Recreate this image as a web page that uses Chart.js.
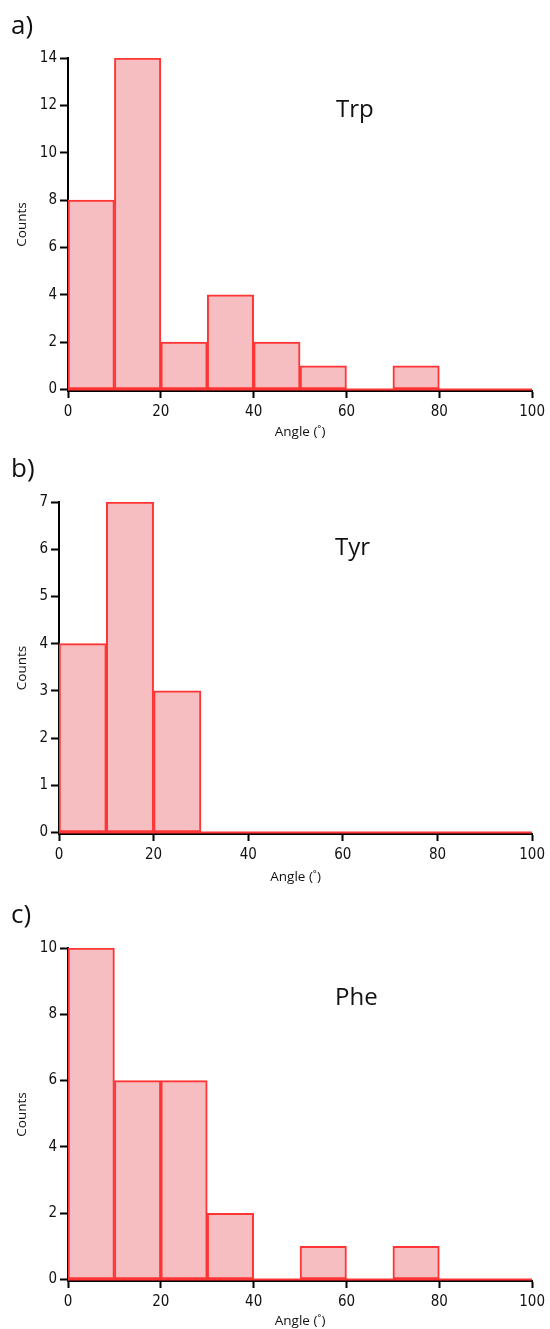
<!DOCTYPE html>
<html>
<head>
<meta charset="utf-8">
<script src="https://cdn.jsdelivr.net/npm/chart.js@4.4.1/dist/chart.umd.min.js"></script>
<style>
  html, body { margin: 0; padding: 0; background: #fff; }
  body { width: 550px; height: 1329px; position: relative; overflow: hidden; }
  canvas { position: absolute; left: 0; }
  .lbl { position: absolute; font-family: "Open Sans", sans-serif; color: #111; line-height: 1; white-space: nowrap; }
  .panel { font-size: 26px; }
  .name { font-size: 24px; }
</style>
</head>
<body>
<canvas id="cA" width="550" height="445" style="top:0px"></canvas>
<canvas id="cB" width="550" height="445" style="top:445px"></canvas>
<canvas id="cC" width="550" height="439" style="top:890px"></canvas>

<div class="lbl panel" style="left:11px; top:11px">a)</div>
<div class="lbl name" style="left:336px; top:96px">Trp</div>
<div class="lbl panel" style="left:11px; top:454px">b)</div>
<div class="lbl name" style="left:335px; top:534px">Tyr</div>
<div class="lbl panel" style="left:11px; top:900px">c)</div>
<div class="lbl name" style="left:335px; top:984px">Phe</div>

<script>
// ---- data ----
const binEdges = [0, 10, 20, 30, 40, 50, 60, 70, 80, 90, 100];
const trpCounts = [8, 14, 2, 4, 2, 1, 0, 1, 0, 0];
const tyrCounts = [4, 7, 3, 0, 0, 0, 0, 0, 0, 0];
const pheCounts = [10, 6, 6, 2, 0, 1, 0, 1, 0, 0];
const trpYTicks = [0, 2, 4, 6, 8, 10, 12, 14];
const tyrYTicks = [0, 1, 2, 3, 4, 5, 6, 7];
const pheYTicks = [0, 2, 4, 6, 8, 10];
const xTicks = [0, 20, 40, 60, 80, 100];
const xTitle = 'Angle (˚)';
const yTitle = 'Counts';

const FILL = 'rgba(247,190,193,1)';
const EDGE = 'rgb(255,52,52)';
const TICK_FONT = { family: '"DejaVu Sans Condensed", "DejaVu Sans", Verdana, sans-serif', size: 15 };
const TITLE_FONT = { family: '"Open Sans", sans-serif', size: 13.5, lineHeight: 1 };

function makePanel(id, counts, yTicks, L) {
  const bars = counts.map((c, i) => ({ x: (binEdges[i] + binEdges[i + 1]) / 2, y: c }));
  const base = [{ x: binEdges[0], y: 0 }, { x: binEdges[binEdges.length - 1], y: 0 }];
  const yMax = yTicks[yTicks.length - 1];
  const titleBottom = L.xTitleY + 7.75;
  new Chart(document.getElementById(id), {
    data: {
      datasets: [
        { type: 'line', data: base, borderColor: EDGE, borderWidth: 2, pointRadius: 0, order: 0 },
        { type: 'bar', data: bars, backgroundColor: FILL, borderColor: EDGE, borderWidth: 2,
          borderSkipped: false, barPercentage: 1, categoryPercentage: 1, order: 1 }
      ]
    },
    options: {
      responsive: false,
      animation: false,
      events: [],
      layout: { padding: { top: L.areaTop - L.top, right: 550 - L.areaRight, left: 0,
                           bottom: L.top + L.height - titleBottom } },
      plugins: { legend: { display: false }, tooltip: { enabled: false } },
      scales: {
        x: {
          type: 'linear', min: 0, max: 100, offset: false,
          afterFit: s => { s.height = titleBottom - L.areaBottom; },
          afterBuildTicks: s => { s.ticks = xTicks.map(v => ({ value: v })); },
          border: { display: true, color: '#000', width: 2 },
          grid: { display: true, offset: false, drawOnChartArea: false, drawTicks: true, tickLength: 7, tickWidth: 2, tickColor: '#000' },
          ticks: { color: '#111', font: TICK_FONT, padding: 5, maxRotation: 0, autoSkip: false },
          title: { display: true, text: xTitle, color: '#111', font: TITLE_FONT, padding: { top: 0, bottom: 1 } }
        },
        y: {
          type: 'linear', min: -L.yPad * yMax, max: yMax,
          afterFit: s => { s.width = L.areaLeft; },
          afterBuildTicks: s => { s.ticks = yTicks.map(v => ({ value: v })); },
          border: { display: true, color: '#000', width: 2 },
          grid: { display: true, offset: false, drawOnChartArea: false, drawTicks: true, tickLength: 8, tickWidth: 2, tickColor: '#000' },
          ticks: { color: '#111', font: TICK_FONT, padding: 3, autoSkip: false },
          title: { display: true, text: yTitle, color: '#111', font: TITLE_FONT, padding: { top: 15, bottom: 0 } }
        }
      }
    }
  });
}

makePanel('cA', trpCounts, trpYTicks,
  { top: 0, height: 445, areaTop: 58, areaBottom: 391, areaLeft: 68, areaRight: 533, xTitleY: 432, yPad: 0.0045 });
makePanel('cB', tyrCounts, tyrYTicks,
  { top: 445, height: 445, areaTop: 502, areaBottom: 834, areaLeft: 59, areaRight: 533, xTitleY: 877, yPad: 0.0045 });
makePanel('cC', pheCounts, pheYTicks,
  { top: 890, height: 439, areaTop: 948, areaBottom: 1281, areaLeft: 68, areaRight: 533, xTitleY: 1321, yPad: 0.0045 });
</script>
</body>
</html>
